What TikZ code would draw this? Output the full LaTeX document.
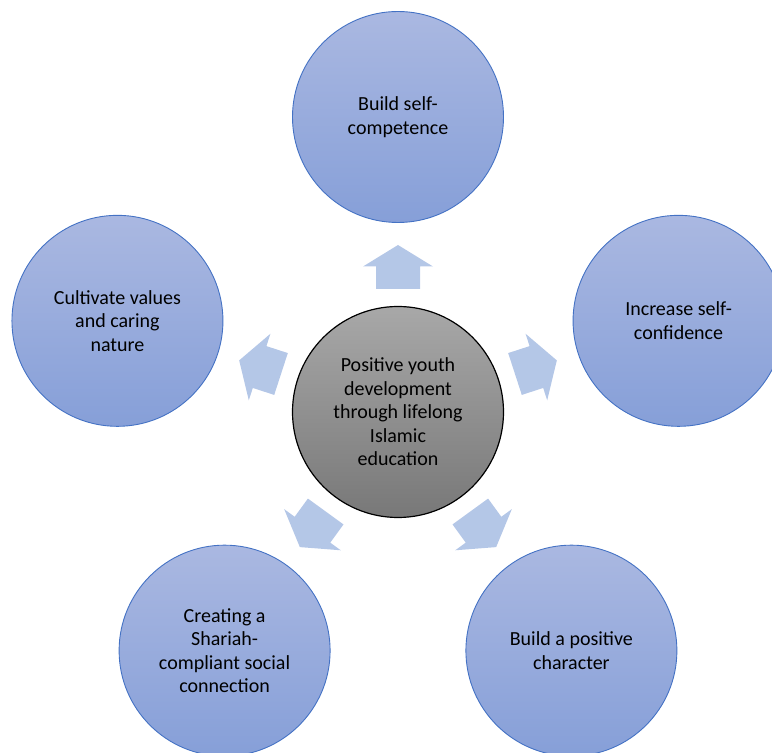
\documentclass[tikz,border=0pt]{standalone}
\usepackage{fontspec}
\setmainfont{Carlito}
\definecolor{ringblue}{RGB}{68,114,196}
\definecolor{bluetop}{RGB}{170,184,225}
\definecolor{bluebot}{RGB}{134,159,216}
\definecolor{graytop}{RGB}{168,168,168}
\definecolor{graybot}{RGB}{120,120,120}
\definecolor{arrowfill}{RGB}{180,199,231}
\begin{document}
\begin{tikzpicture}[x=1pt,y=1pt,
  outer/.style={circle, minimum size=211pt, inner sep=0pt, draw=ringblue, line width=0.9pt,
    top color=bluetop, bottom color=bluebot, align=center, text=black,
    font=\fontsize{20}{23.5}\selectfont},
  hub/.style={circle, minimum size=211pt, inner sep=0pt, draw=black, line width=1.2pt,
    top color=graytop, bottom color=graybot, align=center, text=black,
    font=\fontsize{20}{23.5}\selectfont},
  blockarrow/.style={fill=arrowfill}]
\clip (0,0) rectangle (772,753);
\coordinate (c) at (398,341);
\foreach \a in {90,18,162,-54,-126} {
  \begin{scope}[shift={(398,341)}, rotate=\a]
    \fill[blockarrow] (123,-22) -- (145.5,-22) -- (145.5,-35) -- (167,0) -- (145.5,35) -- (145.5,22) -- (123,22) -- cycle;
  \end{scope}
}
\node[hub] (hub) at (c) {Positive youth\\development\\through lifelong\\Islamic\\education};
\node[outer] (top) at ([shift={(90:295)}]c) {Build self-\\competence};
\node[outer] (right) at ([shift={(18:295)}]c) {Increase self-\\confidence};
\node[outer] (left) at ([shift={(162:295)}]c) {Cultivate values\\and caring\\nature};
\node[outer] (bright) at ([shift={(-54:295)}]c) {Build a positive\\character};
\node[outer] (bleft) at ([shift={(-126:295)}]c) {Creating a\\Shariah-\\compliant social\\connection};
\end{tikzpicture}
\end{document}
